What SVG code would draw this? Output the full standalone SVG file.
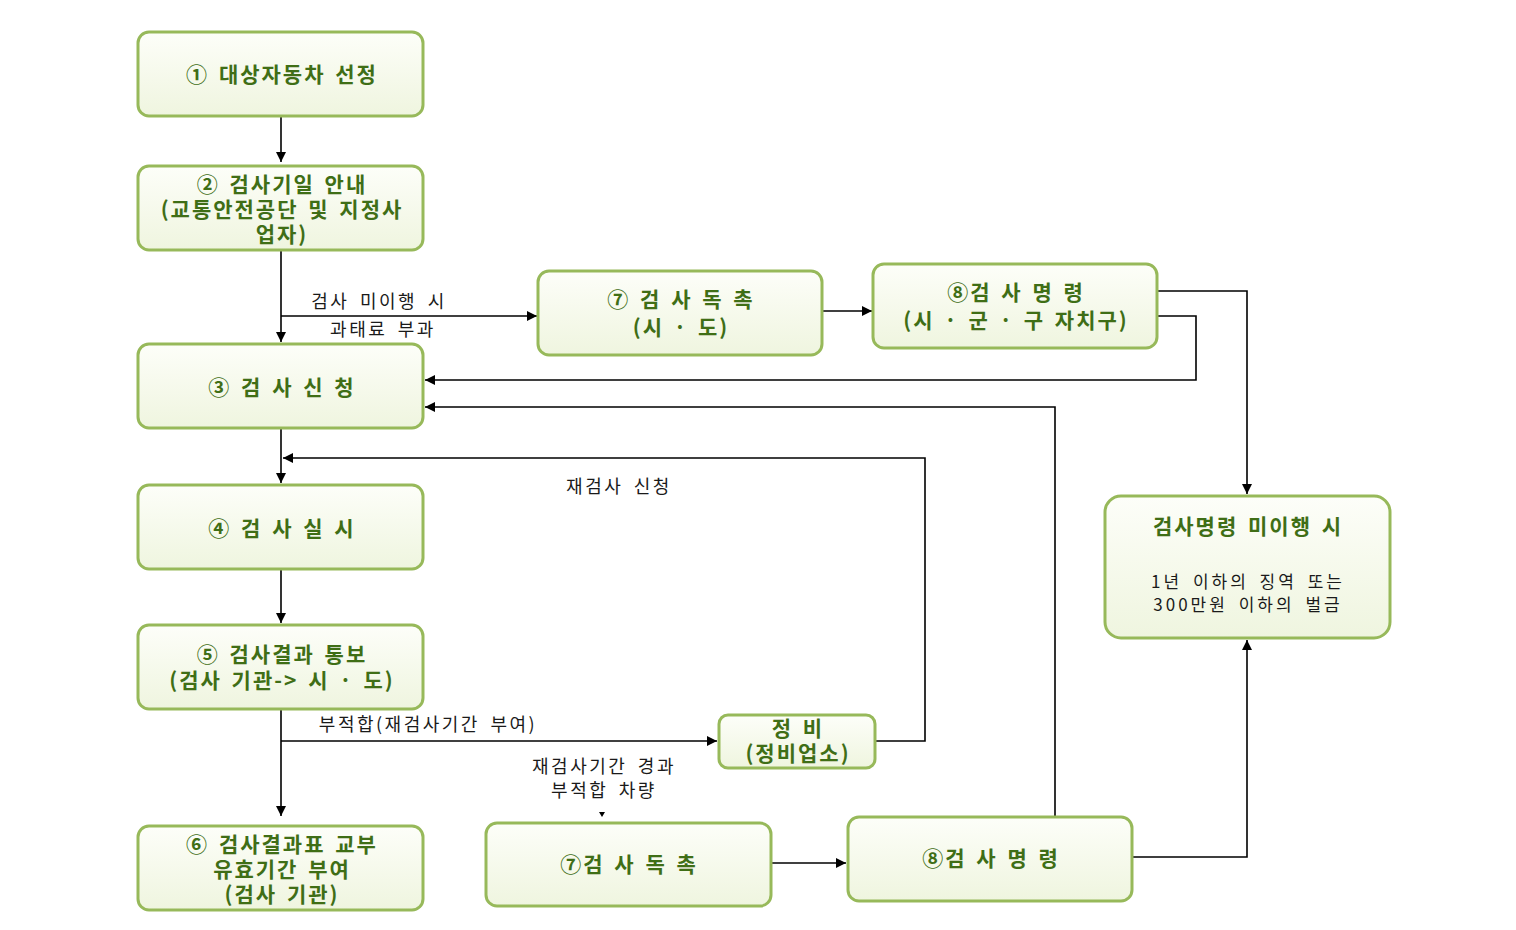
<svg xmlns="http://www.w3.org/2000/svg" width="1516" height="930" viewBox="0 0 1516 930">
<defs>
<linearGradient id="g" x1="0" y1="0" x2="0" y2="1">
<stop offset="0" stop-color="#fdfef9"/>
<stop offset="1" stop-color="#eff5df"/>
</linearGradient>
<marker id="ah" viewBox="0 0 10 10" refX="10" refY="5" markerWidth="10" markerHeight="10" markerUnits="userSpaceOnUse" orient="auto">
<path d="M0,0 L10,5 L0,10 z" fill="#000"/>
</marker>
<style>
.box{fill:url(#g);stroke:#97b95a;stroke-width:3}
.t{font-family:"Noto Sans CJK KR","Noto Sans",sans-serif;font-weight:bold;font-size:21px;letter-spacing:2px;word-spacing:3px;fill:#3f6e16;text-anchor:middle}
.l{font-family:"Noto Sans CJK KR","Noto Sans",sans-serif;font-size:18px;letter-spacing:2.5px;word-spacing:4px;fill:#1a1a1a;text-anchor:middle}
.s{font-family:"Noto Sans CJK KR","Noto Sans",sans-serif;font-size:17px;letter-spacing:3px;word-spacing:4px;fill:#1a1a1a;text-anchor:middle}
.c{fill:none;stroke:#000;stroke-width:1.6}
</style>
</defs>
<rect width="1516" height="930" fill="#fff"/>
<g id="connectors">
<path class="c" d="M281,116 V162" marker-end="url(#ah)"/>
<path class="c" d="M281,250 V342" marker-end="url(#ah)"/>
<path class="c" d="M281,316 H537" marker-end="url(#ah)"/>
<path class="c" d="M822,311 H872" marker-end="url(#ah)"/>
<path class="c" d="M1157,291 H1247 V494" marker-end="url(#ah)"/>
<path class="c" d="M1157,316 H1196 V380 H425" marker-end="url(#ah)"/>
<path class="c" d="M1055,817 V407 H425" marker-end="url(#ah)"/>
<path class="c" d="M281,428 V483" marker-end="url(#ah)"/>
<path class="c" d="M875,741 H925 V458 H283" marker-end="url(#ah)"/>
<path class="c" d="M281,569 V623" marker-end="url(#ah)"/>
<path class="c" d="M281,709 V816" marker-end="url(#ah)"/>
<path class="c" d="M281,741 H717" marker-end="url(#ah)"/>
<path d="M599,812 L605,812 L602,817 z" fill="#000"/>
<path class="c" d="M771,863 H846" marker-end="url(#ah)"/>
<path class="c" d="M1132,857 H1247 V640" marker-end="url(#ah)"/>
<text class="l" x="379" y="308">검사 미이행 시</text>
<text class="l" x="383" y="336">과태료 부과</text>
<text class="l" x="619" y="493">재검사 신청</text>
<text class="l" x="428" y="731">부적합(재검사기간 부여)</text>
<text class="l" x="604" y="773">재검사기간 경과</text>
<text class="l" x="604" y="797">부적합 차량</text>
</g>
<g id="n1"><rect class="box" x="138" y="32" width="285" height="84" rx="11"/><text class="t" x="282" y="82">① 대상자동차 선정</text></g>
<g id="n2"><rect class="box" x="138" y="166" width="285" height="84" rx="11"/><text class="t" x="282" y="192">② 검사기일 안내</text><text class="t" x="282" y="217">(교통안전공단 및 지정사</text><text class="t" x="282" y="242">업자)</text></g>
<g id="n3"><rect class="box" x="138" y="344" width="285" height="84" rx="11"/><text class="t" x="282" y="395">③ 검 사 신 청</text></g>
<g id="n4"><rect class="box" x="138" y="485" width="285" height="84" rx="11"/><text class="t" x="282" y="536">④ 검 사 실 시</text></g>
<g id="n5"><rect class="box" x="138" y="625" width="285" height="84" rx="11"/><text class="t" x="282" y="662">⑤ 검사결과 통보</text><text class="t" x="282" y="688">(검사 기관-&gt; 시 · 도)</text></g>
<g id="n6"><rect class="box" x="138" y="826" width="285" height="84" rx="11"/><text class="t" x="282" y="852">⑥ 검사결과표 교부</text><text class="t" x="282" y="877">유효기간 부여</text><text class="t" x="282" y="902">(검사 기관)</text></g>
<g id="n7a"><rect class="box" x="538" y="271" width="284" height="84" rx="11"/><text class="t" x="681" y="307">⑦ 검 사 독 촉</text><text class="t" x="681" y="335">(시 · 도)</text></g>
<g id="n8a"><rect class="box" x="873" y="264" width="284" height="84" rx="11"/><text class="t" x="1016" y="300">⑧검 사 명 령</text><text class="t" x="1016" y="328">(시 · 군 · 구 자치구)</text></g>
<g id="n9"><rect class="box" x="719" y="715" width="156" height="53" rx="9"/><text class="t" x="798" y="736">정 비</text><text class="t" x="798" y="761">(정비업소)</text></g>
<g id="n10"><rect class="box" x="1105" y="496" width="285" height="142" rx="16"/><text class="t" x="1248" y="534">검사명령 미이행 시</text><text class="s" x="1248" y="588">1년 이하의 징역 또는</text><text class="s" x="1248" y="611">300만원 이하의 벌금</text></g>
<g id="n7b"><rect class="box" x="486" y="823" width="285" height="83" rx="11"/><text class="t" x="629" y="872">⑦검 사 독 촉</text></g>
<g id="n8b"><rect class="box" x="848" y="817" width="284" height="84" rx="11"/><text class="t" x="991" y="866">⑧검 사 명 령</text></g>
</svg>
